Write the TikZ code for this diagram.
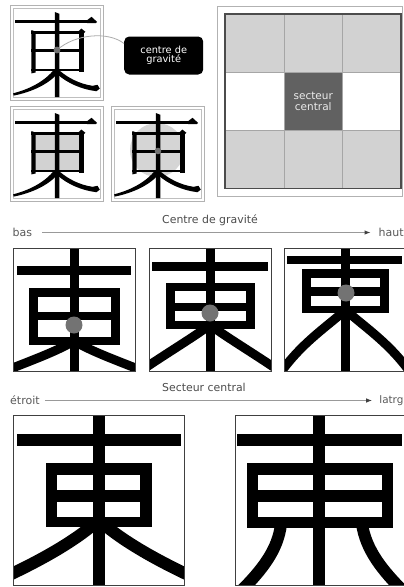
\documentclass[tikz,border=0pt]{standalone}
\usepackage{fontspec}
\usetikzlibrary{arrows.meta}
\newfontfamily\lblfont{DejaVu Sans}
\tikzset{
  ink/.style={fill=black},
  frameo/.style={draw=gray!60, line width=0.9},
  framei/.style={draw=gray!50, line width=0.6},
  pframe/.style={draw=black!75, line width=0.8},
  legstroke/.style={draw=black, line width=#1, line cap=butt},
  gdot/.style={circle, fill=black!55, draw=none, inner sep=0pt, minimum size=#1},
  lbl/.style={font=\lblfont\fontsize{11}{12}\selectfont, text=black!65, inner sep=0pt},
  ttl/.style={font=\lblfont\fontsize{10.9}{12}\selectfont, text=black!70, inner sep=0pt},
  arr/.style={draw=black!40, line width=1, -{Latex[length=6pt,width=4.5pt,color=black!75]}},
  mincho/.pic={
    \draw[frameo] (0,0) rectangle (93.3,95);
    \draw[framei] (3,3) rectangle (90.3,92);
    % top bar
    \fill[ink] (5,15.3) rectangle (83,18.2);
    \fill[ink] (77,15.3) -- (81.5,11.8) -- (87.2,17) -- (85.5,18.2) -- (77,18.2) -- cycle;
    % box verticals
    \fill[ink] (21.4,25) -- (25.6,26.6) -- (25.6,67.5) -- (21.4,68.4) -- cycle;
    \fill[ink] (69.3,26) -- (73.8,26) -- (73.8,67) -- (69.3,67) -- cycle;
    \fill[ink] (68.5,26.2) -- (71.4,23.6) -- (75.4,26.8) -- (73.8,28.3) -- cycle;
    % box horizontals
    \fill[ink] (21.4,25.9) rectangle (73.8,28.5);
    \fill[ink] (21.4,43.9) rectangle (73.8,46.5);
    \fill[ink] (21.4,63.5) rectangle (73.8,66.1);
    % stem
    \fill[ink] (44.8,7) -- (49.4,8.8) -- (49.4,92) -- (44.8,92) -- cycle;
    % left leg
    \fill[ink] (44.4,64.2) .. controls (35,76) and (20,84) .. (3.2,88.3) -- (3.6,90.6)
       .. controls (22,87) and (39,79) .. (48.4,67.6) -- cycle;
    % right leg
    \fill[ink] (49.4,65.4) .. controls (58,73) and (70,79) .. (82.5,80.8) -- (87.5,79.8)
       -- (89.8,83.6) -- (86.5,86.2) .. controls (72,84.6) and (57,78) .. (47.6,69.4) -- cycle;
  }
}
\begin{document}
\begin{tikzpicture}[x=1pt,y=-1pt]
\useasboundingbox (0,0) rectangle (404,587);
\fill[white] (0,0) rectangle (404,587);

% ---------- top-left Mincho panels ----------
\pic at (10,5) {mincho};
\node[gdot=6.6] (g1) at (57,50) {};
\node[fill=black, rounded corners=5pt, minimum width=79pt, minimum height=38pt, inner sep=0pt,
      text=white, align=center, font=\lblfont\fontsize{9.8}{9.5}\selectfont] (callout) at (163.7,55.5) {centre de\\gravité};
\draw[draw=gray!65, line width=0.8] (g1.center) .. controls (75,34) and (108,31) .. ([yshift=12pt]callout.west);
\node[gdot=6.6] at (g1) {};

\fill[gray!35] (33.5,132.8) rectangle (81.6,170.8);
\pic at (10,106) {mincho};

\fill[gray!33] (157,150) circle (27);
\pic at (111,106) {mincho};
\node[gdot=6.6] (g2) at (158,151) {};

% ---------- grid panel ----------
\draw[draw=gray!60, line width=0.8] (217.3,6) rectangle (402.7,196.7);
\fill[gray!35] (225,14) rectangle (400.7,72.7);
\fill[gray!35] (225,130) rectangle (400.7,188.3);
\fill[black!62] (284,72.7) rectangle (342.7,130);
\draw[draw=gray!70, line width=0.6] (284,14) -- (284,188.3) (342.7,14) -- (342.7,188.3)
   (225,72.7) -- (400.7,72.7) (225,130) -- (400.7,130);
\draw[draw=black!70, line width=1.6] (225,14) rectangle (400.7,188.3);
\node[text=white!92!black, align=center, inner sep=0pt, font=\lblfont\fontsize{10.5}{10.5}\selectfont] (sc) at (313.3,101.5) {secteur\\central};

% ---------- Centre de gravité row ----------
\node[ttl] (t1) at (210,220) {Centre de gravité};
\node[lbl, anchor=west] (bas) at (12.5,232.5) {bas};
\node[lbl, anchor=west] (haut) at (378.5,232.5) {haut};
\draw[arr, shorten <=10pt, shorten >=8pt] (bas.east) -- (haut.west);

% panel 1
\begin{scope}
\clip (13.3,248) rectangle (135.5,371);
\draw[legstroke=9] (74,341) .. controls (55,352) and (35,359) .. (5,371);
\draw[legstroke=9] (74,341) .. controls (93,352) and (113,359) .. (143,371);
\end{scope}
\fill[ink] (29.3,288.3) rectangle (120,345);
\fill[white] (38.3,296.7) rectangle (111,311.7);
\fill[white] (38.3,320) rectangle (111,336.7);
\fill[ink] (69.5,248) rectangle (78.5,371);
\fill[ink] (17.3,266) rectangle (130.7,274.5);
\draw[pframe] (13.3,248) rectangle (135.5,371);
\node[gdot=17] (d1) at (74,325) {};

% panel 2
\begin{scope}
\clip (149,248) rectangle (271,371);
\draw[legstroke=9] (210,325) .. controls (192,338) and (172,350) .. (145,368);
\draw[legstroke=9] (210,325) .. controls (228,338) and (248,350) .. (275,368);
\end{scope}
\fill[ink] (165.7,282.7) rectangle (255,328.5);
\fill[white] (174.7,291) rectangle (246,303);
\fill[white] (174.7,311) rectangle (246,320.5);
\fill[ink] (205.5,248) rectangle (214.5,371);
\fill[ink] (152,262) rectangle (268,270.7);
\draw[pframe] (149,248) rectangle (271,371);
\node[gdot=17] (d2) at (210,313) {};

% panel 3
\begin{scope}
\clip (284,248) rectangle (406,371);
\draw[legstroke=9] (345.5,310) .. controls (325,328) and (302,343) .. (281,372);
\draw[legstroke=9] (345.5,310) .. controls (366,328) and (389,343) .. (410,372);
\end{scope}
\fill[ink] (301.7,269.3) rectangle (389.3,313.3);
\fill[white] (310.7,277.5) rectangle (380.3,287);
\fill[white] (310.7,296) rectangle (380.3,305.5);
\fill[ink] (341,248) rectangle (350,371);
\fill[ink] (287,255.5) rectangle (402,264);
\draw[pframe] (284,248) rectangle (406,371);
\node[gdot=17] (d3) at (346,293) {};

% ---------- Secteur central row ----------
\node[ttl] (t2) at (204,387.5) {Secteur central};
\node[lbl, anchor=west] (etroit) at (10,400.5) {étroit};
\node[lbl, anchor=west, font=\lblfont\fontsize{10.4}{12}\selectfont] (large) at (379.2,400.5) {latrg};
\draw[arr, shorten <=5pt, shorten >=7pt] (etroit.east) -- (large.west);

% panel A
\begin{scope}
\clip (13.3,415) rectangle (184.3,585);
\draw[legstroke=12] (98.8,520) .. controls (80,537) and (50,556) .. (5,577);
\draw[legstroke=12] (98.8,520) .. controls (117.6,537) and (147.6,556) .. (192.6,577);
\end{scope}
\fill[ink] (45.7,462.7) rectangle (151.7,527.3);
\fill[white] (57.3,475) rectangle (92.5,490);
\fill[white] (57.3,501.7) rectangle (92.5,516.7);
\fill[white] (105,475) rectangle (140,490);
\fill[white] (105,501.7) rectangle (140,516.7);
\fill[ink] (92.5,415) rectangle (105,585);
\fill[ink] (16.7,434.3) rectangle (181,445.7);
\draw[pframe] (13.3,415) rectangle (184.3,585);

% panel B
\begin{scope}
\clip (235,415) rectangle (406,585);
\draw[legstroke=12] (281,524) .. controls (278,550) and (262,570) .. (240,592);
\draw[legstroke=12] (362,524) .. controls (366,550) and (382,570) .. (404,592);
\end{scope}
\fill[ink] (246.7,462.7) rectangle (393.3,527.7);
\fill[white] (258.3,475) rectangle (313.3,490);
\fill[white] (258.3,501.7) rectangle (313.3,516.7);
\fill[white] (325,475) rectangle (381.7,490);
\fill[white] (325,501.7) rectangle (381.7,516.7);
\fill[ink] (313.3,415) rectangle (325,585);
\fill[ink] (237.3,434.3) rectangle (401.7,445.7);
\draw[pframe] (235,415) rectangle (406,585);
\end{tikzpicture}
\end{document}
